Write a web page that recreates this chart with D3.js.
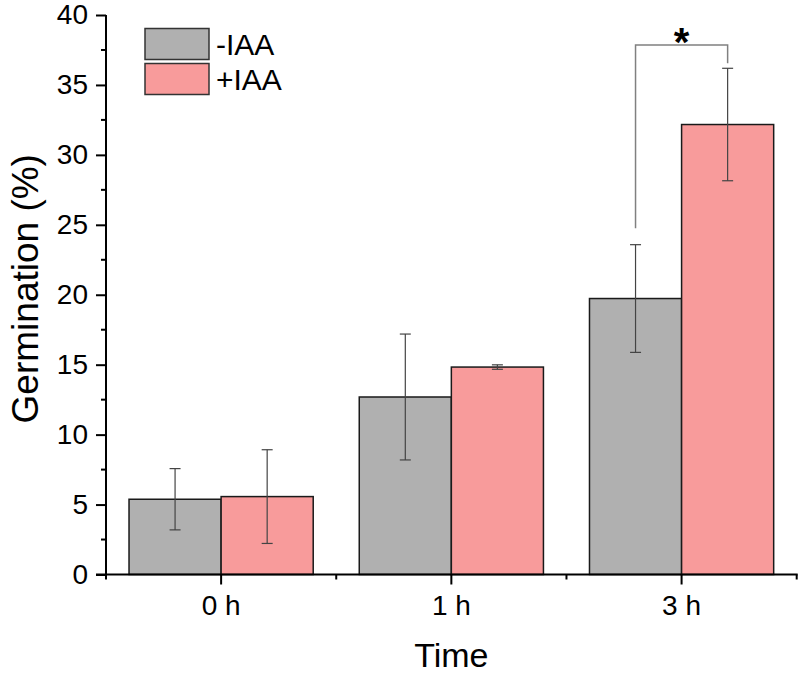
<!DOCTYPE html>
<html><head><meta charset="utf-8">
<script src="https://cdn.jsdelivr.net/npm/d3@7"></script>
<style>body{margin:0;background:#fff}svg{display:block}text{font-family:"Liberation Sans",Arial,sans-serif;fill:#000}</style>
</head><body>
<svg id="c" width="800" height="676"></svg>
<script>
const categories = ["0 h", "1 h", "3 h"];
const seriesNames = ["-IAA", "+IAA"];
const minusIAA = [5.38, 12.69, 19.73];
const minusIAAErr = [2.19, 4.50, 3.85];
const plusIAA = [5.57, 14.83, 32.17];
const plusIAAErr = [3.35, 0.16, 4.02];
const yTicks = [0, 5, 10, 15, 20, 25, 30, 35, 40];
const sigBracket = {cat: "3 h", top: 37.85, leftEnd: 24.75, rightEnd: 36.55, label: "*"};
const colors = ["#b0b0b0", "#f89b9b"];

const FONT = "'Liberation Sans', Arial, sans-serif";
const svg = d3.select("#c");
const x = d3.scaleBand().domain(categories).range([106, 796.7]).paddingInner(0).paddingOuter(0);
const sub = d3.scaleBand().domain(seriesNames).range([0.1 * x.bandwidth(), 0.9 * x.bandwidth()]);
const y = d3.scaleLinear().domain([0, 40]).range([574.5, 15]);

const series = [
  {name: seriesNames[0], vals: minusIAA, err: minusIAAErr, color: colors[0]},
  {name: seriesNames[1], vals: plusIAA, err: plusIAAErr, color: colors[1]}
];

series.forEach(s => {
  svg.append("g").selectAll("rect").data(categories).join("rect")
    .attr("x", (c) => x(c) + sub(s.name))
    .attr("y", (c, i) => y(s.vals[i]))
    .attr("width", sub.bandwidth())
    .attr("height", (c, i) => y(0) - y(s.vals[i]))
    .attr("fill", s.color).attr("stroke", "#1a1a1a").attr("stroke-width", 1.5);
});
series.forEach(s => {
  const g = svg.append("g").attr("stroke", "#444").attr("stroke-width", 1.2).attr("fill", "none");
  categories.forEach((c, i) => {
    const cx = x(c) + sub(s.name) + sub.bandwidth() / 2;
    const lo = y(s.vals[i] - s.err[i]), hi = y(s.vals[i] + s.err[i]);
    g.append("line").attr("x1", cx).attr("x2", cx).attr("y1", lo).attr("y2", hi);
    g.append("line").attr("x1", cx - 5.5).attr("x2", cx + 5.5).attr("y1", lo).attr("y2", lo);
    g.append("line").attr("x1", cx - 5.5).attr("x2", cx + 5.5).attr("y1", hi).attr("y2", hi);
  });
});

{
  const bx1 = x(sigBracket.cat) + sub(seriesNames[0]) + sub.bandwidth() / 2;
  const bx2 = x(sigBracket.cat) + sub(seriesNames[1]) + sub.bandwidth() / 2;
  svg.append("path")
    .attr("d", `M${bx1},${y(sigBracket.leftEnd)}V${y(sigBracket.top)}H${bx2}V${y(sigBracket.rightEnd)}`)
    .attr("fill", "none").attr("stroke", "#808080").attr("stroke-width", 1.5);
  svg.append("text").attr("x", (bx1 + bx2) / 2).attr("y", y(sigBracket.top) + 11)
    .attr("text-anchor", "middle").attr("font-size", 40).attr("font-weight", "bold").text(sigBracket.label);
}

const yAxis = d3.axisLeft(y).tickValues(yTicks).tickSize(10).tickPadding(8).tickFormat(d3.format("d"));
const yg = svg.append("g").attr("transform", "translate(106,0)").call(yAxis)
  .attr("font-family", FONT).attr("font-size", 28);
yg.select(".domain").attr("d", `M0,${y(40)}V${y(0)}`).attr("stroke", "#000").attr("stroke-width", 2);
yg.selectAll(".tick line").attr("stroke", "#000").attr("stroke-width", 2);
yg.selectAll(".tick text").attr("fill", "#000");
const minorY = d3.range(2.5, 40, 5);
yg.selectAll(".minor").data(minorY).join("line").attr("class", "minor")
  .attr("x1", -5).attr("x2", 0).attr("y1", d => y(d)).attr("y2", d => y(d))
  .attr("stroke", "#000").attr("stroke-width", 2);

const xAxis = d3.axisBottom(x).tickSize(10).tickPadding(11);
const xg = svg.append("g").attr("transform", `translate(0,${y(0)})`).call(xAxis)
  .attr("font-family", FONT).attr("font-size", 28);
xg.select(".domain").attr("d", `M96,0H${x.range()[1] + 1}`).attr("stroke", "#000").attr("stroke-width", 2);
xg.selectAll(".tick line").attr("stroke", "#000").attr("stroke-width", 2);
xg.selectAll(".tick text").attr("fill", "#000");
const bounds = categories.map(c => x(c)).concat([x.range()[1]]);
xg.selectAll(".minor").data(bounds).join("line").attr("class", "minor")
  .attr("x1", d => d).attr("x2", d => d).attr("y1", 0).attr("y2", 5)
  .attr("stroke", "#000").attr("stroke-width", 2);

svg.append("text").attr("x", (x.range()[0] + x.range()[1]) / 2).attr("y", 667)
  .attr("text-anchor", "middle").attr("font-size", 34).text("Time");
svg.append("text").attr("transform", `translate(38,${(y(0) + y(40)) / 2 - 6}) rotate(-90)`)
  .attr("text-anchor", "middle").attr("font-size", 37).text("Germination (%)");

series.forEach((s, i) => {
  const ly = 28.5 + i * 35;
  svg.append("rect").attr("x", 145).attr("y", ly).attr("width", 64).attr("height", 31)
    .attr("fill", s.color).attr("stroke", "#333").attr("stroke-width", 1.5);
  svg.append("text").attr("x", 216).attr("y", ly + 26).attr("font-size", 30).text(s.name);
});
</script>
</body></html>
